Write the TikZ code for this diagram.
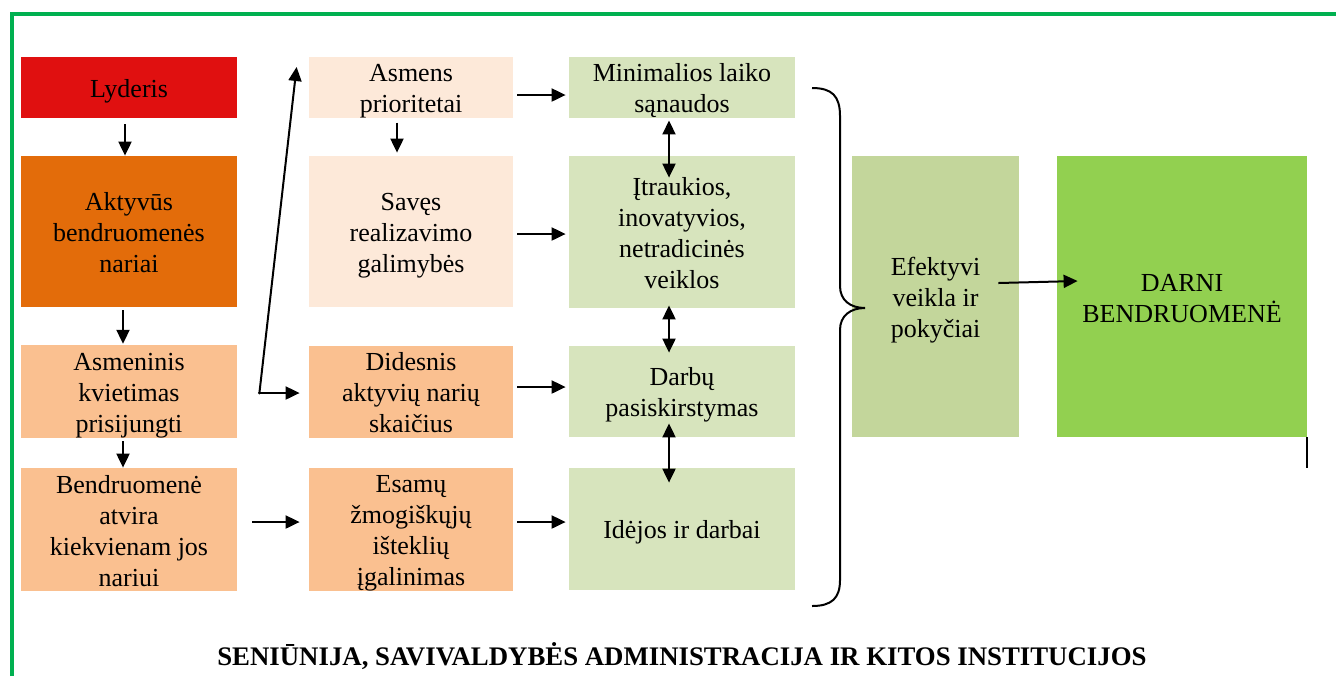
\documentclass[tikz,border=0pt]{standalone}
\usepackage{fontspec}
\setmainfont{Liberation Serif}
\usetikzlibrary{arrows.meta,calc}
\definecolor{cRed}{HTML}{E01010}
\definecolor{cOrange}{HTML}{E36C0A}
\definecolor{cLOrange}{HTML}{FAC090}
\definecolor{cVLOrange}{HTML}{FDE9D9}
\definecolor{cLGreen}{HTML}{D7E4BD}
\definecolor{cMGreen}{HTML}{C3D69B}
\definecolor{cGreen}{HTML}{92D050}
\definecolor{cBorder}{HTML}{00B050}
\newcommand{\tsA}{\rule{0pt}{12.5pt}}
\newcommand{\tsB}{\rule[-2.5pt]{0pt}{2.5pt}}
\tikzset{
  box/.style={inner sep=0pt, align=center, font=\fontsize{13}{15.5}\selectfont},
  arr/.style={line width=1pt, -{Triangle[length=7pt,width=6.5pt]}},
  darr/.style={line width=1pt, {Triangle[length=7pt,width=6.5pt]}-{Triangle[length=7pt,width=6.5pt]}},
}
\begin{document}
\begin{tikzpicture}[x=0.5pt,y=-0.5pt]
\useasboundingbox (0,0) rectangle (1336,676);
% border
\draw[cBorder, line width=2pt] (12,676) -- (12,14) -- (1336,14);
% column 1
\node[box, fill=cRed, minimum width=108pt, minimum height=30.5pt] (L1) at (129,87.5) {\tsA Lyderis\tsB};
\node[box, fill=cOrange, minimum width=108pt, minimum height=75.5pt] (L2) at (129,231.5) {\tsA Aktyvūs\\bendruomenės\\nariai\tsB};
\node[box, fill=cLOrange, minimum width=108pt, minimum height=45.5pt] (L3) at (129,391.5) {\tsA Asmeninis\\kvietimas\\prisijungti\tsB};
\node[box, fill=cLOrange, minimum width=108pt, minimum height=61.5pt] (L4) at (129,529.5) {\tsA Bendruomenė\\atvira\\kiekvienam jos\\nariui\tsB};
% column 2
\node[box, fill=cVLOrange, minimum width=102pt, minimum height=30.5pt] (M1) at (411,87.5) {\tsA Asmens\\prioritetai\tsB};
\node[box, fill=cVLOrange, minimum width=102pt, minimum height=75.5pt] (M2) at (411,231.5) {\tsA Savęs\\realizavimo\\galimybės\tsB};
\node[box, fill=cLOrange, minimum width=102pt, minimum height=45.5pt] (M3) at (411,391.5) {\tsA Didesnis\\aktyvių narių\\skaičius\tsB};
\node[box, fill=cLOrange, minimum width=102pt, minimum height=61.5pt] (M4) at (411,529.5) {\tsA Esamų\\žmogiškųjų\\išteklių\\įgalinimas\tsB};
% column 3
\node[box, fill=cLGreen, minimum width=113pt, minimum height=30.5pt] (R1) at (682,87.5) {\tsA Minimalios laiko\\sąnaudos\tsB};
\node[box, fill=cLGreen, minimum width=113pt, minimum height=76pt] (R2) at (682,232) {\tsA Įtraukios,\\inovatyvios,\\netradicinės\\veiklos\tsB};
\node[box, fill=cLGreen, minimum width=113pt, minimum height=45.5pt] (R3) at (682,391.5) {\tsA Darbų\\pasiskirstymas\tsB};
\node[box, fill=cLGreen, minimum width=113pt, minimum height=61pt] (R4) at (682,529) {\tsA Idėjos ir darbai\tsB};
% right
\node[box, fill=cMGreen, minimum width=83.5pt, minimum height=140.5pt] (E) at (935.5,296.5) {\tsA Efektyvi\\veikla ir\\pokyčiai\tsB};
\node[box, fill=cGreen, minimum width=125pt, minimum height=140.5pt] (D) at (1182,296.5) {\tsA DARNI\\BENDRUOMENĖ\tsB};
% bottom text
\node[box, font=\fontsize{13.4}{15.5}\selectfont\bfseries] (T) at (682,655) {\tsA SENIŪNIJA, SAVIVALDYBĖS ADMINISTRACIJA IR KITOS INSTITUCIJOS\tsB};
% arrows column 1
\draw[arr] ($(L1.south)+(-4,6)$) -- ($(L2.north)+(-4,0)$);
\draw[arr] ($(L2.south)+(-6,3)$) -- ($(L3.north)+(-6,-1)$);
\draw[arr] ($(L3.south)+(-6,3)$) -- ($(L4.north)+(-6,0)$);
\draw[arr] ($(L4.east)+(15,-7.5)$) -- ($(M4.west)+(-9,-7.5)$);
% junction
\coordinate (J) at ($(L3.east)+(22,1.5)$);
\fill (J) circle (1.5);
\draw[arr] (J) -- ($(M3.west)+(-9,1.5)$);
\draw[arr] (J) -- ($(M1.west)+(-12,-20.5)$);
% column 2 arrows
\draw[arr] ($(M1.south)+(-14,4)$) -- ($(M2.north)+(-14,-3)$);
\draw[arr] ($(M1.east)+(4,7.5)$) -- ($(R1.west)+(-3,7.5)$);
\draw[arr] ($(M2.east)+(4,2.5)$) -- ($(R2.west)+(-3,2)$);
\draw[arr] ($(M3.east)+(4,-4.5)$) -- ($(R3.west)+(-3,-4.5)$);
\draw[arr] ($(M4.east)+(4,-7.5)$) -- ($(R4.west)+(-3,-7)$);
% double arrows
\draw[darr] ($(R1.south)+(-13,2)$) -- ($(R2.north)+(-13,22)$);
\draw[darr] ($(R2.south)+(-13,-3)$) -- ($(R3.north)+(-13,7)$);
\draw[darr] ($(R3.south)+(-13,-14)$) -- ($(R4.north)+(-13,15)$);
% brace
\draw[line width=1pt] (812,88) .. controls (832,88) and (840,96) .. (840,116) -- (840,286)
  .. controls (840,300) and (850,308) .. (865,308)
  .. controls (850,308) and (840,316) .. (840,330) -- (840,580)
  .. controls (840,598) and (832,606) .. (812,606);
% E -> D
\draw[arr] ($(E.east)+(-21,-13.5)$) -- ($(D.west)+(21,-15.5)$);
% stray line below D
\draw[line width=1pt] (D.south east) -- ++(0,31);
\end{tikzpicture}
\end{document}
